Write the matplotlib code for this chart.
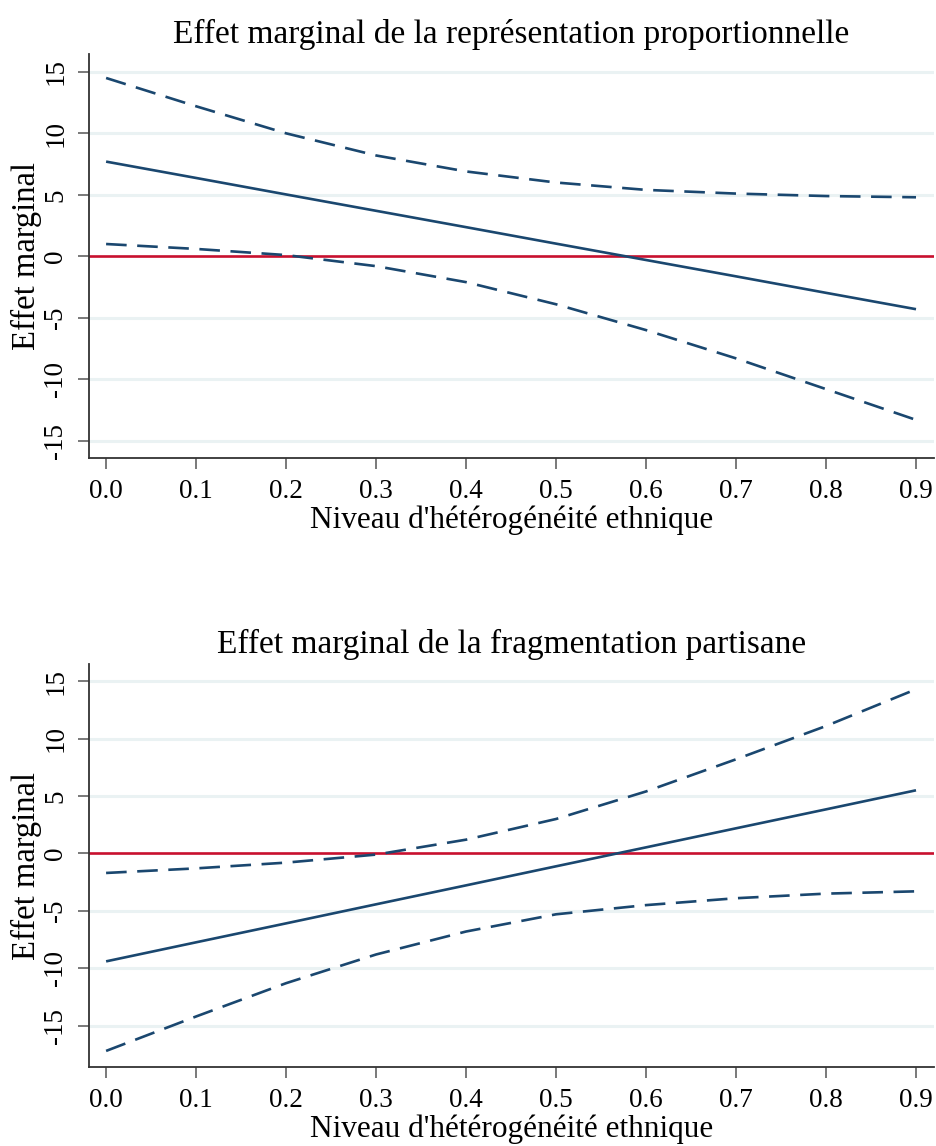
import matplotlib
matplotlib.use("Agg")
import matplotlib.pyplot as plt
import numpy as np

plt.rcParams['font.family'] = ['Liberation Serif', 'DejaVu Serif']

x = [0.0, 0.1, 0.2, 0.3, 0.4, 0.5, 0.6, 0.7, 0.8, 0.9]

# Panel 1: représentation proportionnelle
rp_effect = [7.7, 6.37, 5.03, 3.7, 2.37, 1.03, -0.3, -1.63, -2.97, -4.3]
rp_upper = [14.5, 12.2, 10.0, 8.2, 6.9, 6.0, 5.4, 5.1, 4.9, 4.8]
rp_lower = [1.0, 0.6, 0.1, -0.8, -2.1, -3.9, -6.0, -8.3, -10.8, -13.3]

# Panel 2: fragmentation partisane
fp_effect = [-9.4, -7.74, -6.09, -4.43, -2.78, -1.12, 0.53, 2.19, 3.84, 5.5]
fp_upper = [-1.7, -1.3, -0.8, -0.1, 1.2, 3.0, 5.4, 8.2, 11.1, 14.3]
fp_lower = [-17.2, -14.2, -11.3, -8.8, -6.8, -5.3, -4.5, -3.9, -3.5, -3.3]

titles = ["Effet marginal de la représentation proportionnelle",
          "Effet marginal de la fragmentation partisane"]
xlabel = "Niveau d'hétérogénéité ethnique"
ylabel = "Effet marginal"
xticks = [0.0, 0.1, 0.2, 0.3, 0.4, 0.5, 0.6, 0.7, 0.8, 0.9]
xticklabels = ["0.0", "0.1", "0.2", "0.3", "0.4", "0.5", "0.6", "0.7", "0.8", "0.9"]
yticks = [-15, -10, -5, 0, 5, 10, 15]

navy = '#1a476f'
red = '#c8102e'
grid = '#eaf2f3'

W, H = 937, 1146
fig = plt.figure(figsize=(W / 100, H / 100), dpi=100)

def add_ax(left, top, right, bottom):
    return fig.add_axes([left / W, 1 - bottom / H, (right - left) / W, (bottom - top) / H])

axes = [add_ax(89, 54, 934, 458), add_ax(89, 664, 934, 1067)]
ylims = [(-16.4, 16.45), (-18.6, 16.5)]
data = [(rp_effect, rp_upper, rp_lower), (fp_effect, fp_upper, fp_lower)]

for ax, title, ylim, (eff, up, lo) in zip(axes, titles, ylims, data):
    for yt in yticks:
        if yt != 0:
            ax.axhline(yt, color=grid, lw=2.2, zorder=0)
    ax.axhline(0, color=red, lw=1.9, zorder=2)
    ax.plot(x, eff, color=navy, lw=1.9, zorder=3, solid_capstyle='butt')
    ax.plot(x, up, color=navy, lw=1.9, dashes=(7.8, 4), zorder=3)
    ax.plot(x, lo, color=navy, lw=1.9, dashes=(7.8, 4), zorder=3)
    ax.set_xlim(-0.019, 0.92)
    ax.set_ylim(*ylim)
    ax.set_xticks(xticks)
    ax.set_xticklabels(xticklabels, fontsize=19.5)
    ax.set_yticks(yticks)
    ax.set_yticklabels([str(v) for v in yticks], fontsize=19.5, rotation=90, va='center')
    ax.tick_params(axis='both', length=8, width=1.1, color='#555555', pad=7)
    for s in ['top', 'right']:
        ax.spines[s].set_visible(False)
    for s in ['left', 'bottom']:
        ax.spines[s].set_color('#333333')
        ax.spines[s].set_linewidth(1.3)
    ax.set_title(title, fontsize=24, pad=8)
    ax.set_xlabel(xlabel, fontsize=22.5, labelpad=1)
    ax.set_ylabel(ylabel, fontsize=23.5, labelpad=1)

fig.savefig('out.png', dpi=100, facecolor='white')
